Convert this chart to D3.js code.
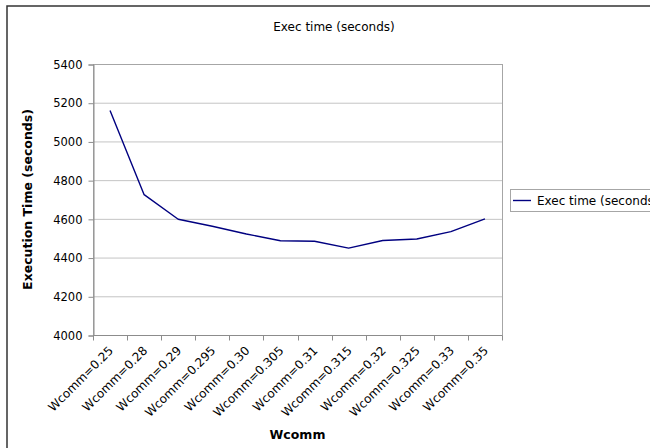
<!DOCTYPE html>
<html>
<head>
<meta charset="utf-8">
<script src="https://cdn.jsdelivr.net/npm/d3@7"></script>
<style>
  html, body { margin: 0; padding: 0; background: #fff; }
  svg { display: block; font-family: "DejaVu Sans", Verdana, sans-serif; }
</style>
</head>
<body>
<svg id="chart" width="650" height="448"></svg>
<script>
// Execution time for each Wcomm setting
const categories = ["Wcomm=0.25", "Wcomm=0.28", "Wcomm=0.29", "Wcomm=0.295", "Wcomm=0.30", "Wcomm=0.305",
                    "Wcomm=0.31", "Wcomm=0.315", "Wcomm=0.32", "Wcomm=0.325", "Wcomm=0.33", "Wcomm=0.35"];
const execTime = [5160, 4725, 4598, 4562, 4522, 4487, 4484, 4449, 4488, 4496, 4534, 4600];
const yTicks = [4000, 4200, 4400, 4600, 4800, 5000, 5200, 5400];
const seriesName = "Exec time (seconds)";

const svg = d3.select("#chart");

// chart frame
svg.append("rect")
  .attr("x", 7).attr("y", 6).attr("width", 700).attr("height", 500)
  .attr("fill", "#fff").attr("stroke", "#333").attr("stroke-width", 1.5);

const plot = { left: 93, right: 502, top: 64, bottom: 335 };

const x = d3.scaleBand().domain(categories).range([plot.left, plot.right]);
const y = d3.scaleLinear().domain([4000, 5400]).range([plot.bottom, plot.top]);

// horizontal gridlines
svg.append("g").selectAll("line").data(yTicks).join("line")
  .attr("x1", plot.left).attr("x2", plot.right)
  .attr("y1", d => y(d) + 0.5).attr("y2", d => y(d) + 0.5)
  .attr("stroke", "#c4c4c4").attr("stroke-width", 1);

// plot area border
svg.append("rect")
  .attr("x", plot.left + 0.5).attr("y", plot.top + 0.5)
  .attr("width", plot.right - plot.left).attr("height", plot.bottom - plot.top)
  .attr("fill", "none").attr("stroke", "#a6a6a6").attr("stroke-width", 1);

// y axis
const yAxis = svg.append("g")
  .attr("transform", `translate(${plot.left + 0.5},0.5)`)
  .call(d3.axisLeft(y).tickValues(yTicks).tickSize(5).tickPadding(6).tickFormat(d3.format("d")));
yAxis.select(".domain").attr("stroke", "#8c8c8c");
yAxis.selectAll(".tick line").attr("stroke", "#8c8c8c");
yAxis.selectAll("text").attr("font-size", 11.5).attr("fill", "#000")
  .attr("font-family", "'DejaVu Sans', Verdana, sans-serif");

// x axis: tick marks at category boundaries
const xAxisG = svg.append("g").attr("transform", `translate(0,${plot.bottom + 0.5})`);
xAxisG.append("line").attr("x1", plot.left).attr("x2", plot.right)
  .attr("stroke", "#8c8c8c");
const bounds = categories.map(c => x(c)).concat([x(categories[categories.length - 1]) + x.bandwidth()]);
xAxisG.selectAll("line.tk").data(bounds).join("line").attr("class", "tk")
  .attr("x1", d => Math.round(d) + 0.5).attr("x2", d => Math.round(d) + 0.5)
  .attr("y1", 0).attr("y2", 5).attr("stroke", "#8c8c8c");

// rotated category labels
xAxisG.selectAll("text").data(categories).join("text")
  .attr("transform", d => `translate(${x(d) + x.bandwidth() / 2 - 2},${10}) rotate(-45)`)
  .attr("text-anchor", "end")
  .attr("dy", "0.7em")
  .attr("font-size", 12).attr("fill", "#000")
  .text(d => d);

// data line
const line = d3.line()
  .x((d, i) => x(categories[i]) + x.bandwidth() / 2)
  .y(d => y(d));
svg.append("path").datum(execTime)
  .attr("d", line)
  .attr("fill", "none").attr("stroke", "#000080").attr("stroke-width", 1.4)
  .attr("stroke-linejoin", "round");

// title
svg.append("text").attr("x", 334).attr("y", 31)
  .attr("text-anchor", "middle").attr("font-size", 12).attr("fill", "#000")
  .text(seriesName);

// axis titles
svg.append("text").attr("x", (plot.left + plot.right) / 2).attr("y", 439)
  .attr("text-anchor", "middle").attr("font-size", 12.5).attr("font-weight", "bold")
  .text("Wcomm");
svg.append("text")
  .attr("transform", `translate(32,${(plot.top + plot.bottom) / 2}) rotate(-90)`)
  .attr("text-anchor", "middle").attr("font-size", 12.5).attr("font-weight", "bold")
  .text("Execution Time (seconds)");

// legend
const lg = svg.append("g");
lg.append("rect").attr("x", 510.5).attr("y", 189.5).attr("width", 170).attr("height", 22)
  .attr("fill", "#fff").attr("stroke", "#a6a6a6");
lg.append("line").attr("x1", 513).attr("x2", 531).attr("y1", 200.5).attr("y2", 200.5)
  .attr("stroke", "#000080").attr("stroke-width", 1.4);
lg.append("text").attr("x", 537).attr("y", 205).attr("font-size", 12).attr("fill", "#000")
  .text(seriesName);
</script>
</body>
</html>
